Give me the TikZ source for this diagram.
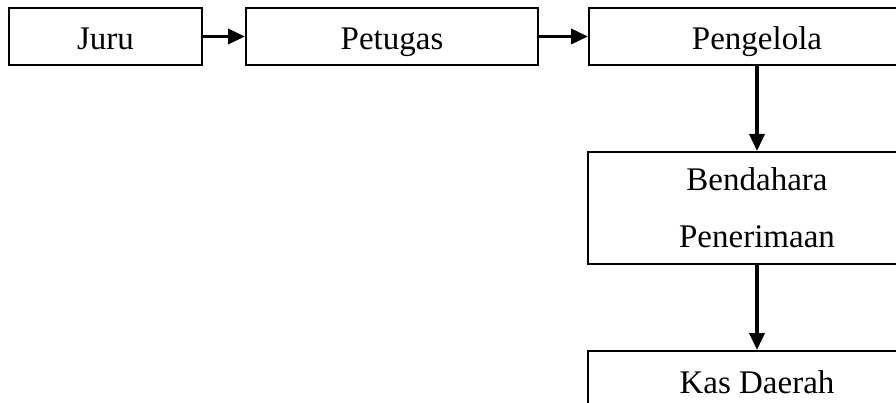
\documentclass[tikz,border=0pt]{standalone}
\usepackage{fontspec}
\setmainfont{Liberation Serif}
\usetikzlibrary{arrows.meta}
\tikzset{
  unitbox/.style={draw=black,line width=2pt,fill=white,inner sep=0pt,align=center,
    font=\fontsize{33}{57}\selectfont},
  oneline/.style={text height=30pt,text depth=3pt},
  flowarrow/.style={line width=3.5pt,-{Triangle[length=17pt,width=15pt]}}
}
\begin{document}
\begin{tikzpicture}[scale=1.000000,x=1pt,y=1pt]
\useasboundingbox (0.000000,0.000000) rectangle (896.000000,-403.000000);
\clip (0.000000,0.000000) rectangle (896.000000,-403.000000);
% Drawing boxes
% Box 1: Juru
\node[unitbox,oneline,minimum width=193pt,minimum height=57pt] (juru) at (105.500000,-36.500000) {Juru};
% Box 2: Petugas
\node[unitbox,oneline,minimum width=292pt,minimum height=57pt] (petugas) at (392.000000,-36.500000) {Petugas};
% Box 3: Pengelola
\node[unitbox,oneline,minimum width=336pt,minimum height=57pt] (pengelola) at (757.000000,-36.500000) {Pengelola};
% Box 4: Bendahara Penerimaan
\node[unitbox,minimum width=338pt,minimum height=112pt] (bendahara) at (757.000000,-208.000000) {Bendahara\\Penerimaan};
% Box 5: Kas Daerah
\node[unitbox,oneline,minimum width=338pt,minimum height=57pt] (kas) at (757.000000,-379.500000) {Kas Daerah};
% Done with boxes; drawing arrows
\draw[flowarrow] (juru) -- (petugas);
\draw[flowarrow] (petugas) -- (pengelola);
\draw[flowarrow] (pengelola) -- (bendahara);
\draw[flowarrow] (bendahara) -- (kas);
% Done with arrows
\end{tikzpicture}
\end{document}
